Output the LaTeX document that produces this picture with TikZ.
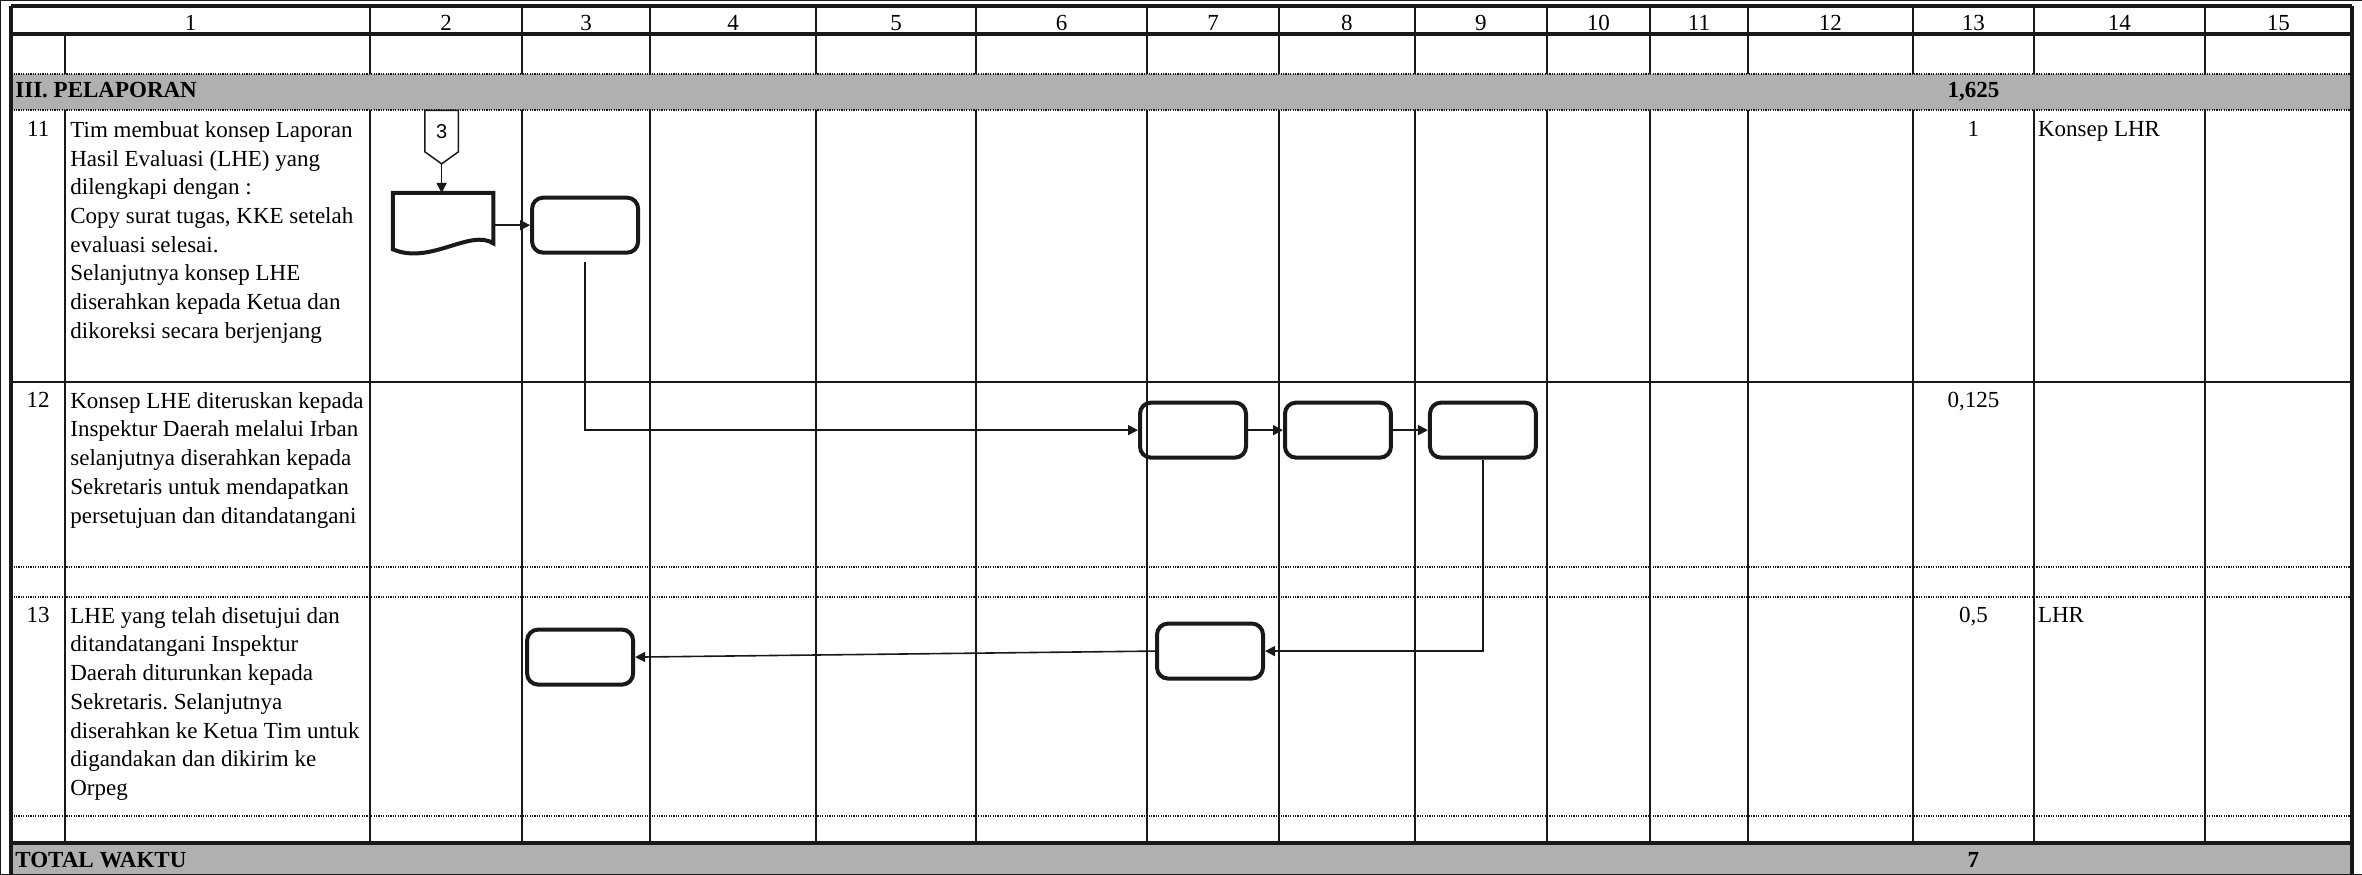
\documentclass[tikz,border=0pt]{standalone}
\usepackage{fontspec}
\setmainfont{Liberation Serif}
\newfontfamily\connfont{Liberation Sans}
\usetikzlibrary{arrows.meta,positioning,calc}
\definecolor{bandgray}{RGB}{176,176,176}
\definecolor{inkblack}{RGB}{25,25,25}
\frenchspacing

\begin{document}
\begin{tikzpicture}[
    x=1pt,y=-1pt,
    node distance=35pt,
    font=\fontsize{23}{28.7}\selectfont,
    every path/.style={draw=inkblack},
    grid/.style={line width=1.8pt},
    heavy/.style={line width=3.6pt},
    dots/.style={line width=2.2pt,dash pattern=on 1.2pt off 1.2pt},
    proc/.style={draw,line width=4pt,rounded corners=11pt,
      minimum width=106pt,minimum height=55pt},
    arr/.style={-{Triangle[length=10pt,width=10pt]},line width=1.6pt},
    desc/.style={inner sep=0pt,anchor=north west,align=left},
    val/.style={inner sep=0pt,anchor=north},
    bandtxt/.style={inner sep=0pt,font=\fontsize{23}{28.7}\selectfont\bfseries}
  ]
    \useasboundingbox (0,0) rectangle (2362,874);
    \fill[bandgray,draw=none] (11,74) rectangle (2352,110);
    \fill[bandgray,draw=none] (11,843) rectangle (2352,874);

    \foreach \x in {370,522,650,816,976,1147,1279,1415,1547,1650,1748,1913,2034,2205}
      {\draw[grid] (\x,6) -- (\x,74); \draw[grid] (\x,110) -- (\x,843);}
    \draw[grid] (65,34) -- (65,74);
    \draw[grid] (65,110) -- (65,843);
    \draw[heavy] (11,6) -- (11,874);
    \draw[heavy] (2352,6) -- (2352,874);
    \draw[heavy] (11,6) -- (2352,6);
    \draw[heavy] (11,34) -- (2352,34);
    \foreach \y in {74,110,567,597,816}
      \draw[dots] (11,\y) -- (2352,\y);
    \draw[grid] (11,382) -- (2352,382);
    \draw[heavy] (11,843) -- (2352,843);

    \foreach \n/\xa/\xb in {1/11/370,2/370/522,3/522/650,4/650/816,5/816/976,
        6/976/1147,7/1147/1279,8/1279/1415,9/1415/1547,10/1547/1650,
        11/1650/1748,12/1748/1913,13/1913/2034,14/2034/2205,15/2205/2352}
      \node[inner sep=0pt,anchor=base] (hd\n) at ({(\xa+\xb)/2},30) {\n};

    \node[bandtxt,anchor=base west] (sect) at (15,97) {III. PELAPORAN};
    \node[bandtxt,anchor=base] (secttime) at (1973.5,97) {1,625};
    \node[bandtxt,anchor=base west] (total) at (15,867) {TOTAL WAKTU};
    \node[bandtxt,anchor=base] (totaltime) at (1973.5,867) {7};

    \node[val] (n11) at (38,121) {11};
    \node[desc] (d11) at (70,121) {Tim membuat konsep Laporan\\Hasil Evaluasi (LHE) yang\\
      dilengkapi dengan :\\Copy surat tugas, KKE setelah\\evaluasi selesai.\\
      Selanjutnya konsep LHE\\diserahkan kepada Ketua dan\\dikoreksi secara berjenjang};
    \node[val] (t11) at (1973.5,121) {1};
    \node[desc] (o11) at (2038,121) {Konsep LHR};

    \node[val] (n12) at (38,392) {12};
    \node[desc] (d12) at (70,392) {Konsep LHE diteruskan kepada\\Inspektur Daerah melalui Irban\\
      selanjutnya diserahkan kepada\\Sekretaris untuk mendapatkan\\persetujuan dan ditandatangani};
    \node[val] (t12) at (1973.5,392) {0,125};

    \node[val] (n13) at (38,607) {13};
    \node[desc] (d13) at (70,607) {LHE yang telah disetujui dan\\ditandatangani Inspektur\\
      Daerah diturunkan kepada\\Sekretaris. Selanjutnya\\diserahkan ke Ketua Tim untuk\\
      digandakan dan dikirim ke\\Orpeg};
    \node[val] (t13) at (1973.5,607) {0,5};
    \node[desc] (o13) at (2038,607) {LHR};

    \node[inner sep=0pt,minimum width=33pt,minimum height=41pt,
      font=\connfont\fontsize{20}{22}\selectfont] (conn3) at (441.5,131) {3};
    \coordinate (tip3) at ($(conn3.south)+(0,12)$);
    \draw[line width=1.5pt] (conn3.north west) -- (conn3.north east) -- (conn3.south east)
      -- (tip3) -- (conn3.south west) -- cycle;

    \node[inner sep=0pt,minimum width=100pt,minimum height=56pt] (doc) at (443,221) {};
    \draw[line width=4pt] (doc.north west) -- (doc.north east) -- ($(doc.south east)+(0,-6)$)
      .. controls +(-23,-15) and +(37,16) .. (doc.south west) -- cycle;

    \node[proc] (box3a) at (585,225) {};
    \node[proc] (box7) at (1193,430) {};
    \node[proc,right=of box7] (box8) {};
    \node[proc,right=of box8] (box9) {};
    \node[proc] (box13a) at (1210,651) {};
    \node[proc] (box3b) at (580,657) {};

    \draw[arr] (tip3) -- (tip3 |- doc.north);
    \draw[arr] (box3a.west -| doc.east) -- (box3a.west);
    \draw[arr,shorten <=7pt] (box3a.south) |- (box7.west);
    \draw[arr] (box7) -- (box8);
    \draw[arr] (box8) -- (box9);
    \draw[arr] (box9.south) |- (box13a.east);
    \draw[arr] (box13a.west) -- (box3b.east);
  \end{tikzpicture}
\end{document}
